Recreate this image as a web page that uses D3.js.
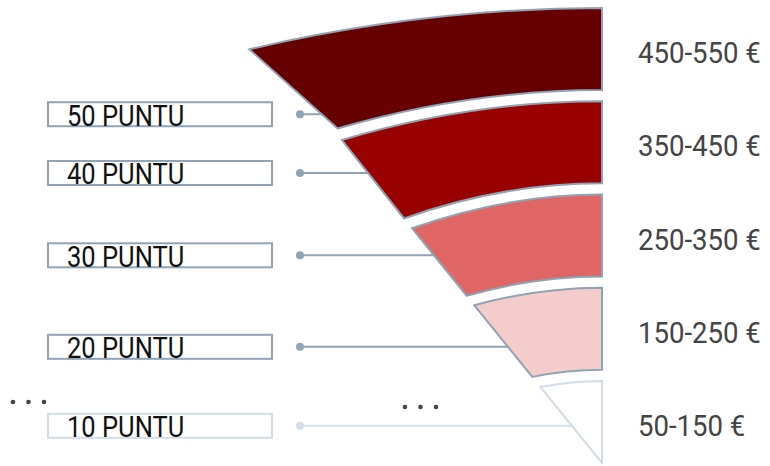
<!DOCTYPE html>
<html>
<head>
<meta charset="utf-8">
<script src="https://cdn.jsdelivr.net/npm/d3@7"></script>
<style>
  html, body { margin: 0; padding: 0; background: #ffffff; }
  svg { display: block; }
  text { font-family: Roboto, "Noto Sans", sans-serif; }
</style>
</head>
<body>
<div id="chart"></div>
<script>
// ---- data ----
const categories  = ["50 PUNTU", "40 PUNTU", "30 PUNTU", "20 PUNTU", "10 PUNTU"];
const priceRanges = ["450-550 €", "350-450 €", "250-350 €", "150-250 €", "50-150 €"];

// ---- styles / layout ----
const fills   = ["#660000", "#990000", "#e06666", "#f4cccc", "#ffffff"];
const strokes = ["#8fa3b5", "#8fa3b5", "#8fa3b5", "#8fa3b5", "#d3dde6"];
const connectorAt = [0.82, 0.42, 0.40, 0.58, 0.51]; // fraction along left edge

const W = 770, H = 466;
const xRight = 602;

const svg = d3.select("#chart").append("svg")
  .attr("width", W).attr("height", H);

// vertical band scale (right edge)
const y = d3.scaleBand().domain(categories).range([8, 463]).paddingInner(0.12).paddingOuter(0);
// left edge of the funnel: x as a function of y
const leftEdge = d3.scaleLinear().domain([49, 127, 143, 463]).range([249, 337, 343, 602]);
// curvature factor depending on boundary height
const curv = d3.scaleLinear().domain([8, 190, 375]).range([0.117, 0.18, 0.10]).clamp(true);

function leftPoint(yr) {
  const k = curv(yr);
  let yy = yr, xx = leftEdge(yy);
  for (let i = 0; i < 40; i++) {
    xx = leftEdge(yy);
    yy = yr + k * (xRight - xx);
  }
  return [leftEdge(yy), yy];
}

const bands = categories.map((c, i) => {
  const yt = y(c), yb = y(c) + y.bandwidth();
  const tl = leftPoint(yt), bl = leftPoint(yb);
  return { c, i, yt, yb, tl, bl };
});

function bandPath(b) {
  const p = d3.path();
  p.moveTo(b.tl[0], b.tl[1]);
  p.quadraticCurveTo((b.tl[0] + xRight) / 2, b.yt, xRight, b.yt);
  p.lineTo(xRight, b.yb);
  p.quadraticCurveTo((b.bl[0] + xRight) / 2, b.yb, b.bl[0], b.bl[1]);
  p.closePath();
  return p.toString();
}

// connectors
const boxX = 48, boxW = 224, boxH = 24, dotX = 300;
bands.forEach(b => {
  b.ly = b.tl[1] + connectorAt[b.i] * (b.bl[1] - b.tl[1]);
});

const conn = svg.append("g");
conn.selectAll("line").data(bands).join("line")
  .attr("x1", dotX).attr("y1", d => d.ly)
  .attr("x2", d => leftEdge(d.ly) + 3).attr("y2", d => d.ly)
  .attr("stroke", d => strokes[d.i]).attr("stroke-width", 2);
conn.selectAll("circle").data(bands).join("circle")
  .attr("cx", dotX).attr("cy", d => d.ly).attr("r", 4)
  .attr("fill", d => strokes[d.i]);

// bands
svg.append("g").selectAll("path").data(bands).join("path")
  .attr("d", bandPath)
  .attr("fill", d => fills[d.i])
  .attr("stroke", d => strokes[d.i])
  .attr("stroke-width", 2)
  .attr("stroke-linejoin", "miter");

// label boxes
const lab = svg.append("g");
lab.selectAll("rect").data(bands).join("rect")
  .attr("x", boxX).attr("y", d => d.ly - boxH / 2)
  .attr("width", boxW).attr("height", boxH)
  .attr("fill", "#ffffff")
  .attr("stroke", d => strokes[d.i]).attr("stroke-width", 2);
lab.selectAll("text").data(bands).join("text")
  .attr("transform", d => `translate(67,${d.ly + 11.5}) scale(0.88,1.04)`)
  .attr("font-size", 29)
  .attr("fill", "#111111")
  .text(d => d.c);

// price labels
svg.append("g").selectAll("text").data(bands).join("text")
  .attr("transform", d => `translate(638,${(d.yt + d.yb) / 2 + 14}) scale(0.95,1.04)`)
  .attr("font-size", 29)
  .attr("fill", "#444444")
  .text(d => priceRanges[d.i]);

// ellipsis marks
const ell = [[13, 402], [405, 407]];
ell.forEach(([x0, y0]) => {
  svg.append("g").selectAll("circle").data(d3.range(3)).join("circle")
    .attr("cx", d => x0 + d * 15.5).attr("cy", y0).attr("r", 2.3)
    .attr("fill", "#444444");
});
</script>
</body>
</html>
